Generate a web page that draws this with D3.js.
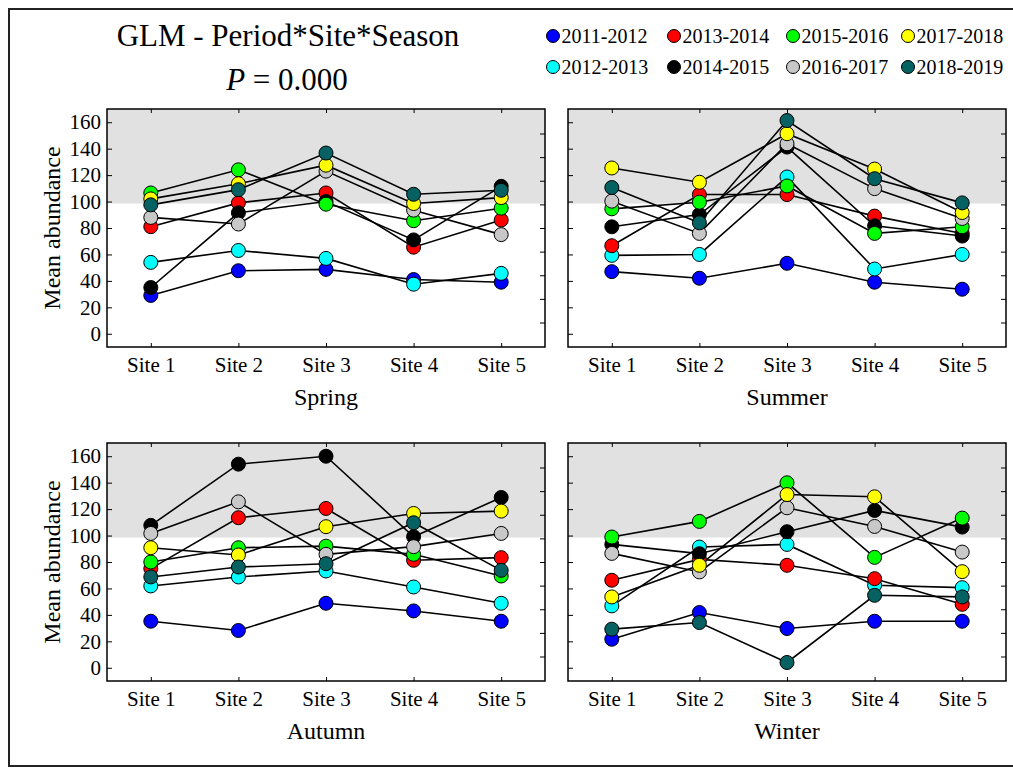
<!DOCTYPE html>
<html>
<head>
<meta charset="utf-8">
<script src="https://cdn.jsdelivr.net/npm/d3@7"></script>
<style>
  body { margin: 0; background: #fff; }
  svg { display: block; }
  svg text { font-family: 'Liberation Serif', 'Times New Roman', Times, serif; }
</style>
</head>
<body>
<svg width="1013" height="768"></svg>
<script>
// periods in legend order, with their marker colours
const periods = ['2011-2012', '2012-2013', '2013-2014', '2014-2015', '2015-2016', '2016-2017', '2017-2018', '2018-2019'];
const periodColors = ['#0000ff', '#00ffff', '#ff0000', '#000000', '#00ff00', '#c8c8c8', '#ffff00', '#066262'];
const sites = ['Site 1', 'Site 2', 'Site 3', 'Site 4', 'Site 5'];
const seasons = ['Spring', 'Summer', 'Autumn', 'Winter'];
const yTicks = [0, 20, 40, 60, 80, 100, 120, 140, 160];

// mean abundance, one row per period (same order as periods), one column per site
const springValues = [
  [29, 47.7, 48.7, 41, 39],
  [54, 63, 57, 37.5, 45.7],
  [81, 99, 106.5, 65.5, 86],
  [35, 91.5, 100, 71, 111.5],
  [106.5, 124, 98, 85.5, 95],
  [88, 83, 123, 93.5, 75],
  [102, 113.5, 127.5, 98.5, 103],
  [97.5, 109, 136.7, 105.5, 108.5]
];
const summerValues = [
  [47, 42, 53.3, 39, 33.7],
  [59.3, 60, 118.6, 49, 60],
  [66.6, 105.3, 105.3, 89, 75.9],
  [80.9, 90.2, 141.2, 81.7, 73.9],
  [94.5, 99.5, 111.8, 75.9, 80.9],
  [100.3, 75.9, 143.7, 109.8, 87.2],
  [125.4, 114.6, 151.3, 124.6, 91.7],
  [110.6, 83.9, 161.3, 117.3, 99]
];
const autumnValues = [
  [35.2, 28.2, 48.8, 43, 35.2],
  [61.9, 68.7, 73.2, 61.1, 48.8],
  [75, 113.5, 120.5, 81.3, 83.3],
  [107.7, 154, 160, 99.1, 128.8],
  [80, 90.8, 92, 85.8, 69.4],
  [101.6, 125.5, 85.8, 91.6, 101.6],
  [90.8, 85.3, 106.7, 116.7, 118.5],
  [68.7, 76.2, 78.7, 109.7, 73.7]
];
const winterValues = [
  [21.6, 41.8, 29.7, 35.2, 35.2],
  [46.8, 91.3, 93.3, 62.4, 60.6],
  [66.2, 82, 77.5, 67.4, 48],
  [93.3, 86.3, 102.9, 119, 106.4],
  [98.9, 110.7, 139.9, 83.5, 113.2],
  [86.5, 72.5, 121, 106.9, 87.5],
  [53.6, 77.5, 131, 129.3, 72.7],
  [29.2, 34.2, 4, 54.8, 53.6]
];
const seasonValues = [springValues, summerValues, autumnValues, winterValues];

const FONT = "'Liberation Serif', 'Times New Roman', serif";
const svg = d3.select('svg').attr('font-family', FONT);
const W = 438, H = 238;
const colX = [107, 568], rowY = [109, 443];

// outer figure frame
svg.append('rect')
  .attr('x', 9).attr('y', 9)
  .attr('width', 1012).attr('height', 757)
  .attr('fill', 'none').attr('stroke', '#222').attr('stroke-width', 2);

// title
svg.append('text')
  .attr('x', 288).attr('y', 46)
  .attr('text-anchor', 'middle')
  .attr('font-size', 31)
  .text('GLM - Period*Site*Season');
const pLine = svg.append('text')
  .attr('x', 287).attr('y', 90)
  .attr('text-anchor', 'middle')
  .attr('font-size', 31);
pLine.append('tspan').attr('font-style', 'italic').text('P');
pLine.append('tspan').text(' = 0.000');

// legend : 2 rows x 4 columns
const legendX = [553, 674, 793, 908];
const legendY = [36, 67];
const legend = svg.append('g');
periods.forEach((p, i) => {
  const cx = legendX[Math.floor(i / 2)], cy = legendY[i % 2];
  legend.append('circle')
    .attr('cx', cx).attr('cy', cy).attr('r', 6.5)
    .attr('fill', periodColors[i]).attr('stroke', '#000').attr('stroke-width', 1);
  legend.append('text')
    .attr('x', cx + 8.5).attr('y', cy + 7)
    .attr('font-size', 20)
    .text(p);
});

const styleAxis = sel => {
  sel.attr('font-family', FONT).attr('font-size', 21);
  sel.select('.domain').remove();
  sel.selectAll('line').attr('stroke', '#000');
};

function drawPanel(values, season, x0, y0, showLabels) {
  const g = svg.append('g').attr('transform', `translate(${x0},${y0})`);

  const x = d3.scalePoint().domain(sites).range([0, W]).padding(0.5);
  const y = d3.scaleLinear().domain([-10, 170]).range([H, 0]);
  const yRight = d3.scaleLinear().domain([0, 8]).range([H - 24.5, 24.5]);

  g.append('rect')
    .attr('x', 0).attr('y', y(170))
    .attr('width', W).attr('height', y(98.5) - y(170))
    .attr('fill', '#e1e1e1');

  g.append('g')
    .call(d3.axisLeft(y).tickValues(yTicks).tickSizeInner(-5).tickSizeOuter(0).tickPadding(6)
      .tickFormat(showLabels ? d3.format('d') : () => ''))
    .call(styleAxis);

  g.append('g')
    .attr('transform', `translate(${W},0)`)
    .call(d3.axisRight(yRight).ticks(8).tickSizeInner(-5).tickSizeOuter(0).tickFormat(() => ''))
    .call(styleAxis);

  g.append('g')
    .attr('transform', `translate(0,${H})`)
    .call(d3.axisBottom(x).tickSizeInner(-4).tickSizeOuter(0).tickPadding(10))
    .call(styleAxis);

  g.append('g')
    .call(d3.axisTop(x).tickSizeInner(-4).tickSizeOuter(0).tickFormat(() => ''))
    .call(styleAxis);

  const line = d3.line()
    .x((d, i) => x(sites[i]))
    .y(d => y(d));

  g.selectAll('path.series').data(values)
    .enter().append('path')
      .attr('class', 'series')
      .attr('d', line)
      .attr('fill', 'none')
      .attr('stroke', '#000')
      .attr('stroke-width', 1.6);

  values.forEach((row, pi) => {
    g.selectAll('circle.p' + pi).data(row)
      .enter().append('circle')
        .attr('class', 'p' + pi)
        .attr('cx', (d, i) => x(sites[i]))
        .attr('cy', d => y(d))
        .attr('r', 7)
        .attr('fill', periodColors[pi])
        .attr('stroke', '#000')
        .attr('stroke-width', 1);
  });

  g.append('rect')
    .attr('width', W).attr('height', H)
    .attr('fill', 'none').attr('stroke', '#000').attr('stroke-width', 1.5);

  if (showLabels) {
    g.append('text')
      .attr('transform', `translate(-55,${H / 2}) rotate(-90)`)
      .attr('text-anchor', 'middle')
      .attr('dy', '0.35em')
      .attr('font-size', 24)
      .text('Mean abundance');
  }

  g.append('text')
    .attr('x', W / 2).attr('y', H + 58)
    .attr('text-anchor', 'middle')
    .attr('font-size', 24)
    .text(season);
}

seasons.forEach((s, i) => {
  drawPanel(seasonValues[i], s, colX[i % 2], rowY[Math.floor(i / 2)], i % 2 === 0);
});
</script>
</body>
</html>
